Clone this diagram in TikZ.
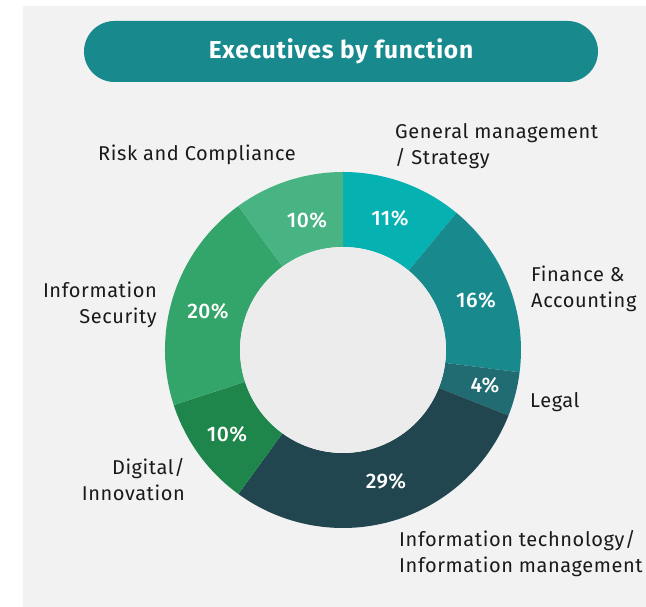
\documentclass[tikz,border=0pt]{standalone}
\usepackage{fontspec}
\setmainfont{Fira Sans}[LetterSpace=3]
\newfontfamily\pctfont{Fira Sans Medium}[LetterSpace=2]
\definecolor{panel}{HTML}{F2F2F2}
\definecolor{hole}{HTML}{ECECEC}
\definecolor{pill}{HTML}{188A8E}
\definecolor{cA}{HTML}{05B1B1}
\definecolor{cB}{HTML}{188A8E}
\definecolor{cC}{HTML}{216B73}
\definecolor{cD}{HTML}{214650}
\definecolor{cE}{HTML}{1F864B}
\definecolor{cF}{HTML}{33A46A}
\definecolor{cG}{HTML}{48B383}
\definecolor{txt}{HTML}{1A1A1A}
\tikzset{
  lbl/.style={inner sep=0pt, text=txt, font=\fontsize{20}{26}\selectfont},
  pct/.style={inner sep=0pt, text=white, font=\pctfont\fontsize{21}{24}\selectfont},
}
\newcommand{\slice}[3]{%
  \fill[#3] ($(C)+(#1:178)$) arc[start angle=#1, end angle=#2, radius=178]
    -- ($(C)+(#2:103)$) arc[start angle=#2, end angle=#1, radius=103] -- cycle;}
\usetikzlibrary{calc}
\begin{document}
\begin{tikzpicture}[x=1pt,y=1pt]
\useasboundingbox (0,0) rectangle (646,607);
\fill[panel] (23,0) rectangle (646,601);
\node[fill=pill, rounded corners=30.5pt, minimum width=514pt, minimum height=61pt, inner sep=0pt,
  text=white, font=\bfseries\fontsize{24.5}{28}\selectfont] (title) at (341,555.5) {Executives by function};
\coordinate (C) at (343,257);
\slice{90}{50.4}{cA}
\slice{50.4}{-7.2}{cB}
\slice{-7.2}{-21.6}{cC}
\slice{-21.6}{-126}{cD}
\slice{-126}{-162}{cE}
\slice{-162}{-234}{cF}
\slice{-234}{-270}{cG}
\fill[hole] (C) circle[radius=103];
\node[pct] (pA) at (390,389) {11\%};
\node[pct] (pB) at (476,307) {16\%};
\node[pct] (pC) at (485,222) {4\%};
\node[pct] (pD) at (386,126) {29\%};
\node[pct] (pE) at (227,173) {10\%};
\node[pct] (pF) at (208,296) {20\%};
\node[pct] (pG) at (307,387) {10\%};
\node[lbl, anchor=west, align=left] (lA) at (395,461) {General management\\/ Strategy};
\node[lbl, anchor=west, align=left] (lB) at (531,318) {Finance \&\\Accounting};
\node[lbl, anchor=west] (lC) at (530,205) {Legal};
\node[lbl, anchor=west, align=left] (lD) at (399,53) {Information technology/\\Information management};
\node[lbl, anchor=east, align=right] (lE) at (185,127) {Digital/\\Innovation};
\node[lbl, anchor=east, align=right] (lF) at (157,302) {Information\\Security};
\node[lbl] (lG) at (197,452) {Risk and Compliance};
\end{tikzpicture}
\end{document}
